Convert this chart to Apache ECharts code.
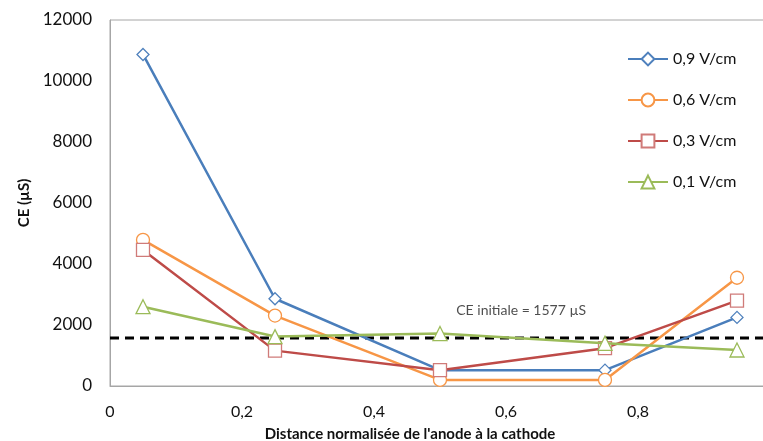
<!DOCTYPE html>
<html><head><meta charset="utf-8">
<script src="https://cdn.jsdelivr.net/npm/echarts@6/dist/echarts.min.js"></script>
<style>html,body{margin:0;padding:0;background:#fff}#c{width:763px;height:441px}</style>
</head><body><div id="c"></div>
<script>
const xPositions = [0.05, 0.25, 0.5, 0.75, 0.95];
const seriesNames = ['0,9 V/cm', '0,6 V/cm', '0,3 V/cm', '0,1 V/cm'];
const v09 = [10870, 2860, 520, 520, 2250];
const v06 = [4790, 2310, 200, 200, 3550];
const v03 = [4460, 1160, 520, 1240, 2800];
const v01 = [2600, 1620, 1720, 1400, 1180];
const ceInitiale = 1577;
const ceLabel = 'CE initiale = 1577 µS';
const ceLabelPos = [0.623, 2460];
const yTicks = [0, 2000, 4000, 6000, 8000, 10000, 12000];
const xTicks = [0, 0.2, 0.4, 0.6, 0.8, 1];

const FONT = 'Lato, "Open Sans", sans-serif';
const colors = ['#4a7ebb', '#f79646', '#be4b48', '#9bbb59'];
const markerColors = ['#4f81bd', '#f79646', '#d07b79', '#9bbb59'];
const symbols = ['diamond', 'circle', 'rect', 'triangle'];
const sizes = [12, 13, 13, 14];
const vals = [v09, v06, v03, v01];

const series = vals.map((v, i) => ({
  name: seriesNames[i], type: 'line',
  data: v.map((y, j) => [xPositions[j], y]),
  symbol: symbols[i], symbolSize: sizes[i],
  lineStyle: { color: colors[i], width: 2.5 },
  itemStyle: { color: '#fff', borderColor: markerColors[i], borderWidth: 1.3 },
  z: 3 + i
}));
series.push({
  name: 'CE initiale', type: 'line',
  data: [[xTicks[0], ceInitiale], [xTicks[xTicks.length - 1], ceInitiale]],
  symbol: 'none',
  lineStyle: { color: '#000', width: 3, type: [9, 6] },
  z: 2
});
series.push({
  name: 'label', type: 'scatter', data: [ceLabelPos], symbolSize: 0,
  label: { show: true, position: 'inside', formatter: ceLabel, color: '#222', fontSize: 14, fontFamily: FONT }
});

const chart = echarts.init(document.getElementById('c'));
chart.setOption({
  animation: false,
  grid: { left: 110, top: 20, bottom: 55, right: -7, show: true, borderColor: '#a6a6a6', borderWidth: 1,
    outerBoundsMode: 'none', containLabel: false },
  legend: {
    data: seriesNames, orient: 'vertical', left: 622, top: 46, itemGap: 25,
    itemWidth: 40, itemHeight: 16,
    textStyle: { fontSize: 16, fontFamily: FONT, color: '#111' }
  },
  xAxis: {
    type: 'value', min: xTicks[0], max: xTicks[xTicks.length - 1], interval: 0.2,
    axisLine: { show: true, lineStyle: { color: '#a6a6a6' } }, axisTick: { show: false },
    splitLine: { show: false },
    axisLabel: { margin: 18, fontSize: 16, fontFamily: FONT, color: '#111', showMaxLabel: false,
      formatter: v => v === 0 ? '0' : v.toFixed(1).replace('.', ',') },
    name: 'Distance normalisée de l\'anode à la cathode', nameLocation: 'middle', nameGap: 41,
    nameTextStyle: { fontSize: 15, fontWeight: 'bold', fontFamily: FONT, color: '#111', padding: [0, 60, 0, 0] }
  },
  yAxis: {
    type: 'value', min: yTicks[0], max: yTicks[yTicks.length - 1], interval: 2000,
    axisLine: { show: true, lineStyle: { color: '#a6a6a6' } }, axisTick: { show: false },
    splitLine: { show: false },
    axisLabel: { margin: 18, fontSize: 17, fontFamily: FONT, color: '#111', formatter: v => String(v) },
    name: 'CE (µS)', nameLocation: 'middle', nameGap: 77,
    nameTextStyle: { fontSize: 15, fontWeight: 'bold', fontFamily: FONT, color: '#111' }
  },
  series
});
</script></body></html>
